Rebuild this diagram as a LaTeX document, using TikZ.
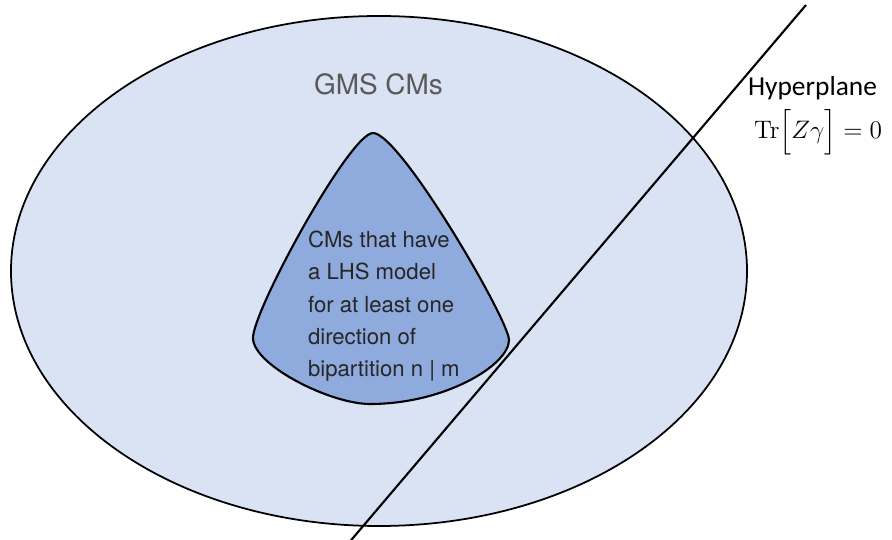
\documentclass[tikz,border=0pt]{standalone}
\usepackage{amsmath}
\usepackage[no-math]{fontspec}
\setmainfont{TeX Gyre Heros}
\newfontfamily\hyperfont{Carlito}
\definecolor{outerblue}{HTML}{DAE3F3}
\definecolor{innerblue}{HTML}{8FAADC}
\definecolor{labelgrey}{HTML}{595959}

\begin{document}
\begin{tikzpicture}[x=0.02cm, y=-0.02cm, line width=1.2pt]
    \useasboundingbox (0, 0) rectangle (892, 540);
    \node [] (0) at (379, 271) {};
    \draw [fill=outerblue, line width=1pt] (0.center) ellipse [x radius=368, y radius=255];
    \draw [fill=innerblue] (373, 133) .. controls (400, 133) and (509, 320) .. (509, 340)
        .. controls (509, 365) and (445, 404) .. (370, 404)
        .. controls (330, 404) and (253, 365) .. (253, 338)
        .. controls (253, 310) and (350, 133) .. cycle;
    \node [anchor=base west, inner sep=0, text=labelgrey, font=\fontsize{15.9}{19}\selectfont] (1) at (313, 95) {GMS CMs};
    \node [anchor=north west, inner sep=0, align=left, text=black!85, font=\fontsize{12.6}{18.4}\selectfont] (2) at (307, 230) {CMs that have\\a LHS model\\for at least one\\direction of\\bipartition n | m};
    \node [anchor=base west, inner sep=0, font=\hyperfont\fontsize{15.6}{18}\selectfont] (3) at (747, 96) {Hyperplane};
    \node [anchor=base west, inner sep=0, font=\fontsize{14.5}{15}\selectfont] (4) at (753, 139) {$\mathrm{Tr}\Big[Z\gamma\Big] = 0$};
    \node [] (5) at (806, 5) {};
    \node [] (6) at (347, 545) {};
    \draw (5.center) to (6.center);
  \end{tikzpicture}
\end{document}
